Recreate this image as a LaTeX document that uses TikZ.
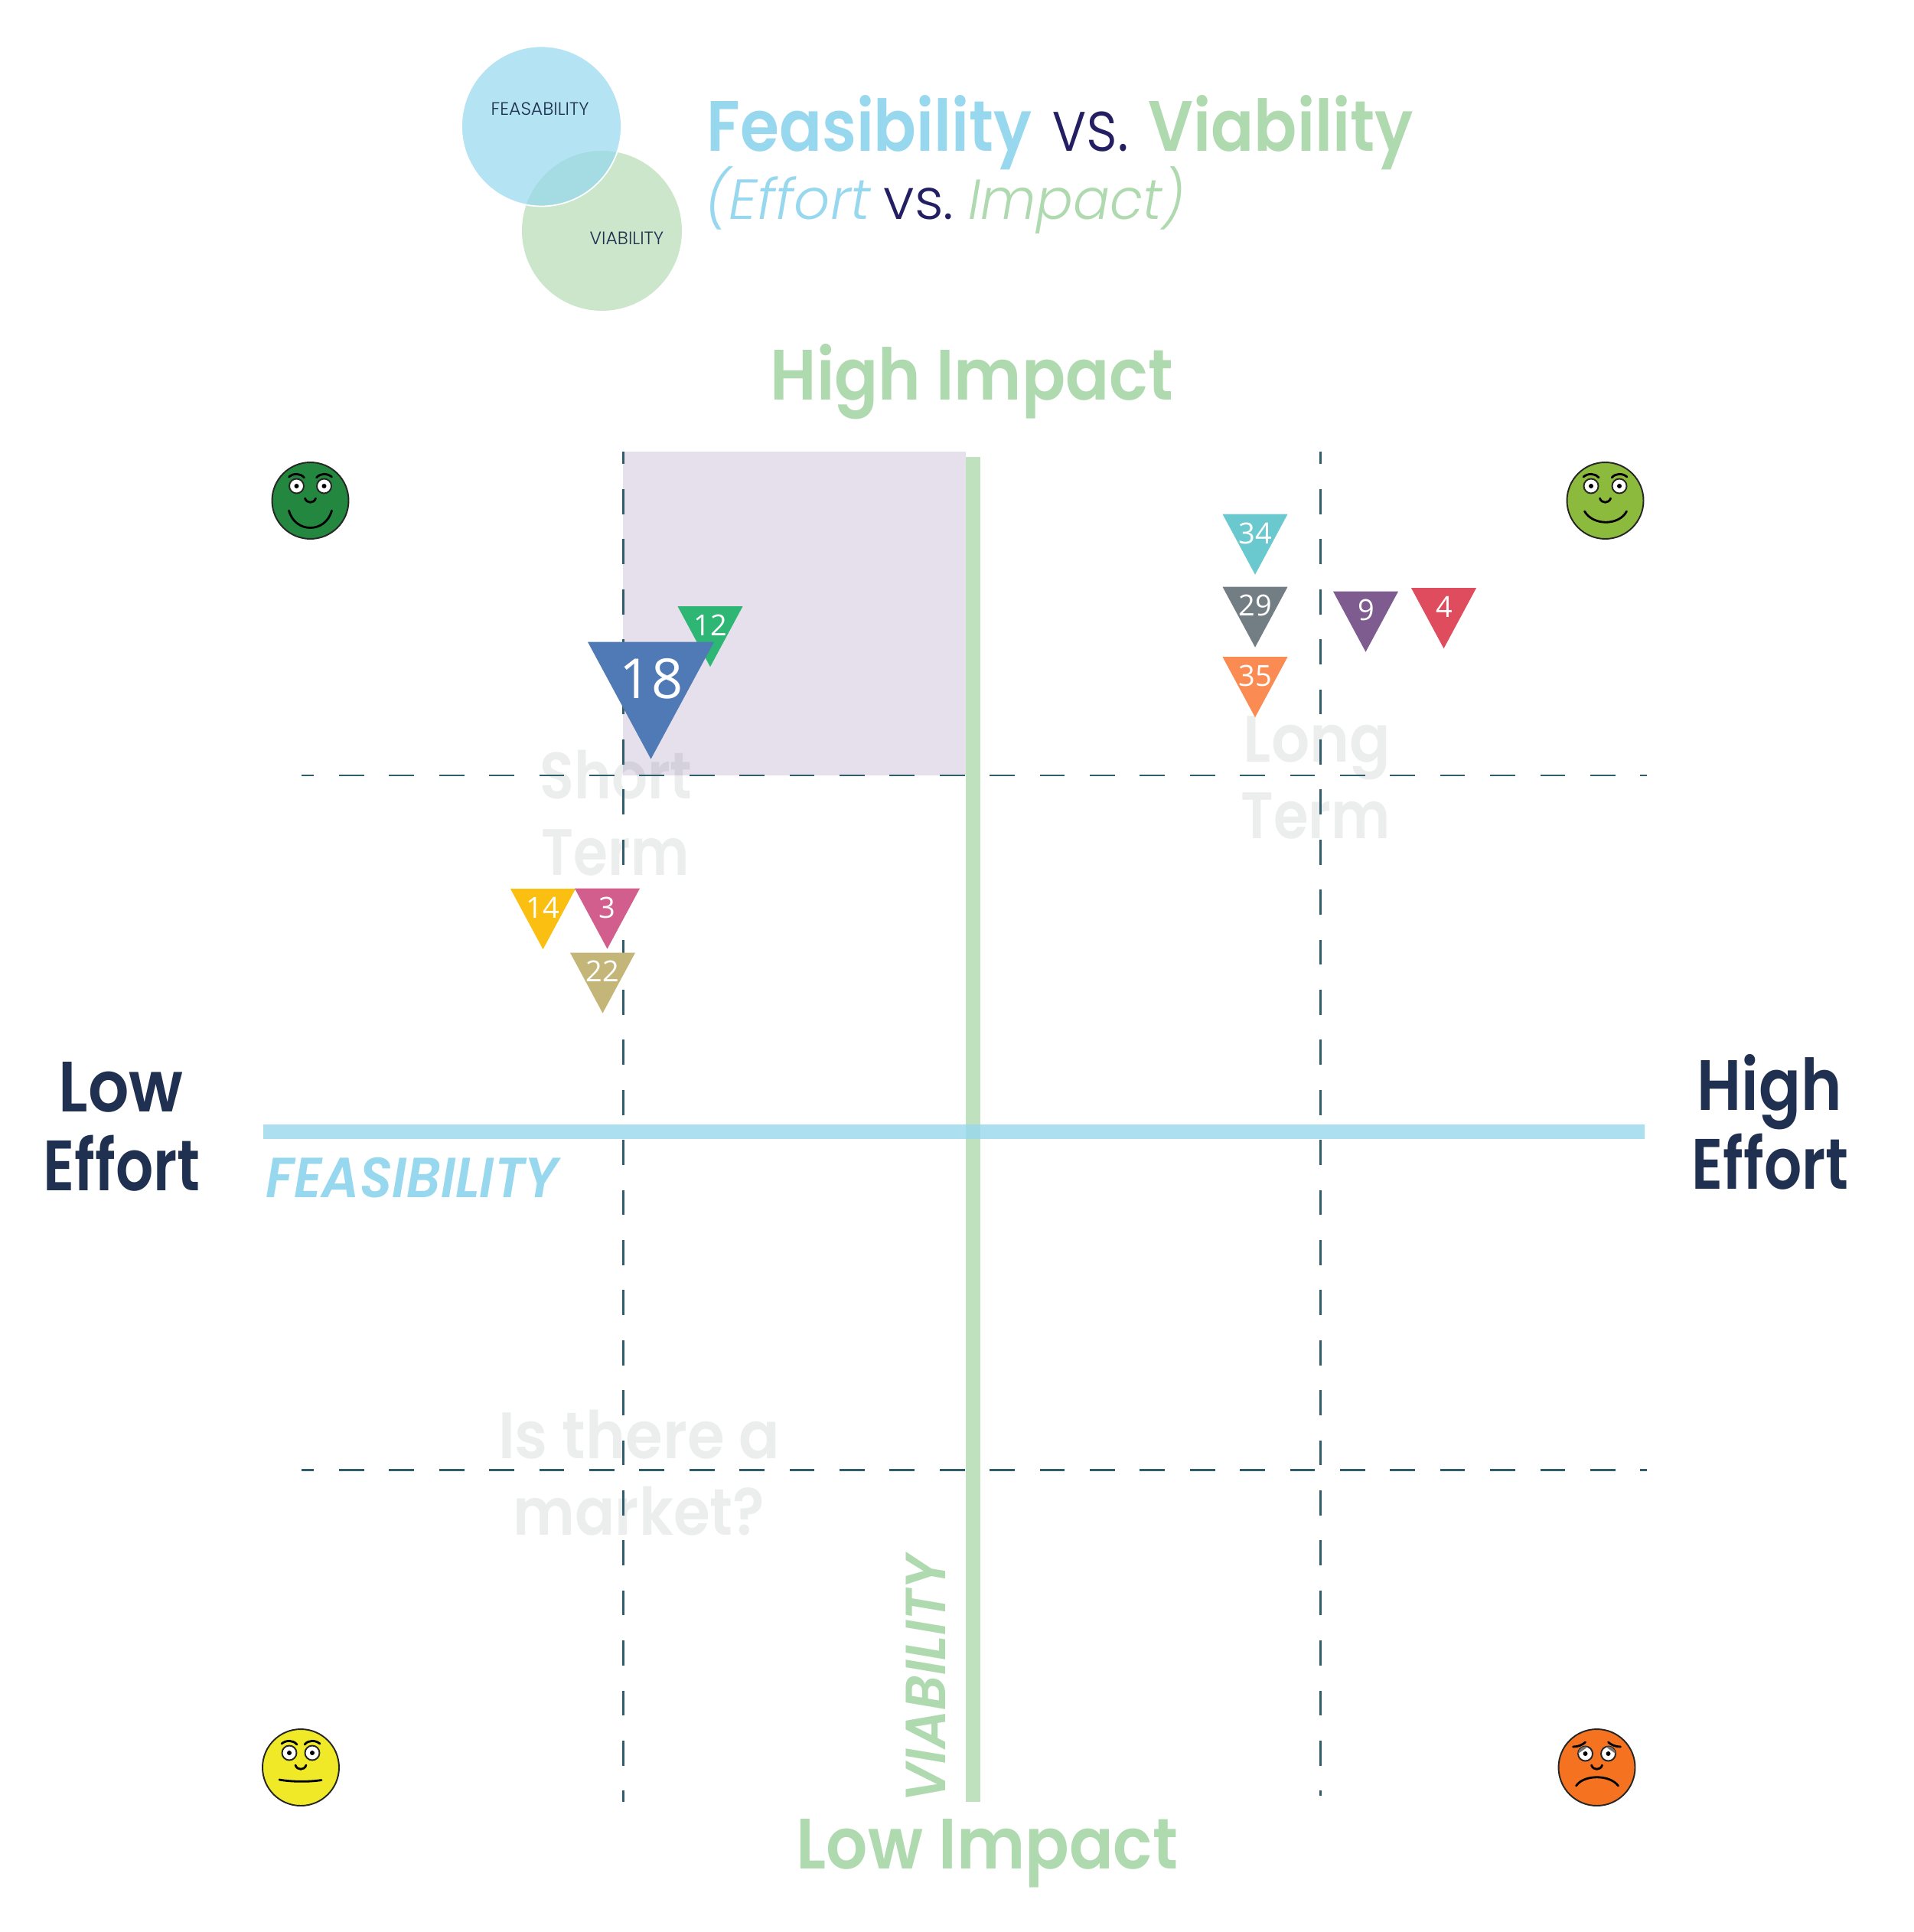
\documentclass[tikz,border=0pt]{standalone}
\usepackage{fontspec}
\setmainfont{Poppins}[BoldFont={Poppins SemiBold},BoldItalicFont={Poppins SemiBold Italic}]
\newfontfamily\thinfont{Poppins Light}[ItalicFont={Poppins Light Italic}]
\newfontfamily\numfont{Open Sans}
\usetikzlibrary{shapes.geometric}
\definecolor{feasblue}{HTML}{97D8EE}
\definecolor{viabgreen}{HTML}{AFD9AE}
\definecolor{navyink}{HTML}{1F3050}
\definecolor{vsink}{HTML}{231F62}
\definecolor{ghostgrey}{HTML}{ECEEEE}
\definecolor{dashteal}{HTML}{2F5D6B}
\definecolor{zonepurple}{HTML}{E6E0EC}
\definecolor{facedark}{HTML}{23873F}
\definecolor{facelime}{HTML}{8CBA3C}
\definecolor{faceyellow}{HTML}{EFE928}
\definecolor{faceorange}{HTML}{F57220}

\begin{document}
\begin{tikzpicture}[x=1cm,y=-1cm]
\tikzset{
  label/.style={inner sep=0pt,anchor=base west},
  headtext/.style={label,font=\fontsize{26.5}{30}\selectfont\bfseries},
  ghosttext/.style={inner sep=0pt,anchor=base,text=ghostgrey,blend mode=multiply,font=\fontsize{24.4}{28}\selectfont\bfseries},
  subtext/.style={label,font=\fontsize{21}{25}\selectfont\thinfont\itshape},
  axistext/.style={label,font=\fontsize{21}{25}\selectfont\bfseries\itshape},
  venntext/.style={label,text=navyink,font=\fontsize{6.7}{8}\selectfont\thinfont},
  guide/.style={draw=dashteal,line width=0.85pt,dash pattern=on 32.7*0.2845pt off 32.7*0.2845pt},
  marker/.style={isosceles triangle,isosceles triangle stretches,shape border rotate=-90,anchor=apex,
    minimum width=0.85cm,minimum height=0.79cm,inner sep=0pt},
  bigmarker/.style={marker,minimum width=1.65cm,minimum height=1.53cm},
  marknum/.style={inner sep=0pt,text=white,font=\fontsize{10.8}{12}\selectfont\numfont},
  bigmarknum/.style={marknum,font=\fontsize{20.5}{23}\selectfont\numfont},
  faceline/.style={draw=black!85,line width=0.55pt},
  facestroke/.style={draw=black,line width=0.8pt,line cap=round},
  pics/eye/.style={code={
    \filldraw[fill=white,faceline] (0,0) circle (0.095);
    \fill[black] (0,0) circle (0.03);
  }},
  pics/face/.style n args={3}{code={
    \filldraw[fill=#1,faceline] (0,0) circle (0.50);
    \pic at (-#2,-0.19) {eye};
    \pic at (#2,-0.19) {eye};
    \draw[facestroke] (-#2-0.10,-0.31) .. controls (-#2-0.04,-0.36) and (-#2+0.05,-0.36) .. (-#2+0.10,-0.30);
    \draw[facestroke] (#2-0.10,-0.30) .. controls (#2-0.05,-0.36) and (#2+0.04,-0.36) .. (#2+0.10,-0.31);
    \draw[facestroke] (-0.07,-0.03) .. controls (-0.05,0.04) and (0.05,0.04) .. (0.07,-0.03);
    \draw[facestroke] #3;
  }},
  pics/sadface/.style={code={
    \filldraw[fill=#1,faceline] (0,0) circle (0.50);
    \pic at (-0.15,-0.18) {eye};
    \pic at (0.15,-0.18) {eye};
    \fill[black!55] (-0.245,-0.18) arc (180:290:0.095) -- cycle;
    \fill[black!55] (0.245,-0.18) arc (0:-110:0.095) -- cycle;
    \draw[facestroke] (-0.31,-0.27) .. controls (-0.24,-0.27) and (-0.18,-0.30) .. (-0.15,-0.33);
    \draw[facestroke] (0.31,-0.27) .. controls (0.24,-0.27) and (0.18,-0.30) .. (0.15,-0.33);
    \draw[facestroke] (-0.07,-0.03) .. controls (-0.05,0.04) and (0.05,0.04) .. (0.07,-0.03);
    \draw[facestroke] (-0.27,0.24) .. controls (-0.17,0.09) and (0.17,0.09) .. (0.28,0.24);
  }}
}
\useasboundingbox (0,0) rectangle (25,25.24);
% venn
\fill[viabgreen,opacity=0.65] (7.865,3.015) circle (1.045);
\filldraw[fill=feasblue,fill opacity=0.72,draw=white,line width=0.5pt] (7.075,1.65) circle (1.045);
\node[venntext] (n_venn_f) at (6.41,1.505) {FEASABILITY};
\node[venntext] (n_venn_v) at (7.70,3.20) {VIABILITY};
% title
\node[headtext,text=feasblue] (n_title_f) at (9.23,1.98) {\scalebox{0.885}[1]{Feasibility}};
\node[label,text=vsink,font=\fontsize{26.5}{30}\selectfont\thinfont] (n_title_vs) at (13.75,1.98) {\scalebox{0.86}[1]{vs.}};
\node[headtext,text=viabgreen] (n_title_v) at (15.00,1.98) {\scalebox{0.89}[1]{Viability}};
\node[subtext,text=feasblue] (n_sub_e) at (9.21,2.87) {(Effort};
\node[label,text=vsink,font=\fontsize{21}{25}\selectfont\thinfont] (n_sub_vs) at (11.54,2.87) {vs.};
\node[subtext,text=viabgreen] (n_sub_i) at (12.65,2.87) {\scalebox{0.96}[1]{Impact)}};
% zone and watermarks
\fill[zonepurple] (8.14,5.90) rectangle (12.62,10.13);
\node[ghosttext] (n_short) at (8.05,10.43) {\scalebox{0.86}[1]{Short}};
\node[ghosttext] (n_term_s) at (8.04,11.43) {\scalebox{0.85}[1]{Term}};
\node[ghosttext] (n_long) at (17.21,9.95) {\scalebox{0.92}[1]{Long}};
\node[ghosttext] (n_term_l) at (17.19,10.95) {\scalebox{0.86}[1]{Term}};
\node[ghosttext] (n_market_a) at (8.35,19.05) {\scalebox{0.92}[1]{Is there a}};
\node[ghosttext] (n_market_b) at (8.35,20.05) {\scalebox{0.90}[1]{market?}};
% guides
\coordinate (g_l1) at (3.94,10.13);
\coordinate (g_r1) at (21.52,10.13);
\coordinate (g_l2) at (3.94,19.20);
\coordinate (g_r2) at (21.52,19.20);
\coordinate (g_t1) at (8.14,5.90);
\coordinate (g_b1) at (8.14,23.54);
\coordinate (g_t2) at (17.25,5.90);
\coordinate (g_b2) at (17.25,23.46);
\draw[guide,dash phase=16.3*0.2845pt] (g_l1) -- (g_r1);
\draw[guide,dash phase=16.3*0.2845pt] (g_l2) -- (g_r2);
\draw[guide,dash phase=16.3*0.2845pt] (g_t1) -- (g_b1);
\draw[guide,dash phase=16.3*0.2845pt] (g_t2) -- (g_b2);
% axes
\fill[viabgreen,opacity=0.8] (12.62,5.97) rectangle (12.81,23.54);
\fill[feasblue,opacity=0.8] (3.44,14.69) rectangle (21.49,14.88);
\node[axistext,text=feasblue] (n_axis_f) at (3.47,15.64) {\scalebox{0.935}[1]{FEASIBILITY}};
\node[axistext,text=viabgreen,rotate=90] (n_axis_v) at (12.35,23.55) {\scalebox{0.955}[1]{VIABILITY}};
% end labels
\node[headtext,text=viabgreen] (n_high) at (10.06,5.23) {\scalebox{0.905}[1]{High Impact}};
\node[headtext,text=viabgreen] (n_low) at (10.40,24.41) {\scalebox{0.915}[1]{Low Impact}};
\node[headtext,text=navyink] (n_leff_a) at (0.76,14.52) {\scalebox{0.90}[1]{Low}};
\node[headtext,text=navyink] (n_leff_b) at (0.56,15.55) {\scalebox{0.83}[1]{Effort}};
\node[headtext,text=navyink] (n_heff_a) at (22.17,14.50) {\scalebox{0.87}[1]{High}};
\node[headtext,text=navyink] (n_heff_b) at (22.10,15.53) {\scalebox{0.83}[1]{Effort}};
% markers
\node[marker,fill={rgb,255:red,45;green,182;blue,116}] (t_12) at (9.28,8.73) {};
\node[marknum] (l_12) at (9.28,8.17) {12};
\node[bigmarker,fill={rgb,255:red,79;green,122;blue,182}] (t_18) at (8.505,9.935) {};
\node[bigmarknum] (l_18) at (8.51,8.87) {18};
\node[marker,fill={rgb,255:red,251;green,191;blue,18}] (t_14) at (7.095,12.42) {};
\node[marknum] (l_14) at (7.09,11.86) {14};
\node[marker,fill={rgb,255:red,210;green,94;blue,142}] (t_3) at (7.935,12.415) {};
\node[marknum] (l_3) at (7.93,11.86) {3};
\node[marker,fill={rgb,255:red,196;green,181;blue,120}] (t_22) at (7.875,13.255) {};
\node[marknum] (l_22) at (7.87,12.69) {22};
\node[marker,fill={rgb,255:red,106;green,201;blue,206}] (t_34) at (16.40,7.525) {};
\node[marknum] (l_34) at (16.40,6.97) {34};
\node[marker,fill={rgb,255:red,115;green,126;blue,132}] (t_29) at (16.40,8.475) {};
\node[marknum] (l_29) at (16.40,7.91) {29};
\node[marker,fill={rgb,255:red,249;green,139;blue,83}] (t_35) at (16.40,9.39) {};
\node[marknum] (l_35) at (16.40,8.83) {35};
\node[marker,fill={rgb,255:red,126;green,92;blue,143}] (t_9) at (17.845,8.535) {};
\node[marknum] (l_9) at (17.85,7.97) {9};
\node[marker,fill={rgb,255:red,222;green,76;blue,94}] (t_4) at (18.865,8.49) {};
\node[marknum] (l_4) at (18.87,7.93) {4};
% faces
\pic at (4.055,6.54) {face={facedark}{0.18}{(-0.28,0.13) .. controls (-0.20,0.43) and (0.20,0.43) .. (0.28,0.13)}};
\pic at (20.975,6.54) {face={facelime}{0.185}{(-0.27,0.14) .. controls (-0.16,0.33) and (0.18,0.33) .. (0.28,0.14)}};
\pic at (3.93,23.09) {face={faceyellow}{0.15}{(-0.28,0.16) .. controls (-0.12,0.19) and (0.12,0.19) .. (0.27,0.165)}};
\pic at (20.865,23.09) {sadface=faceorange};
\end{tikzpicture}
\end{document}
